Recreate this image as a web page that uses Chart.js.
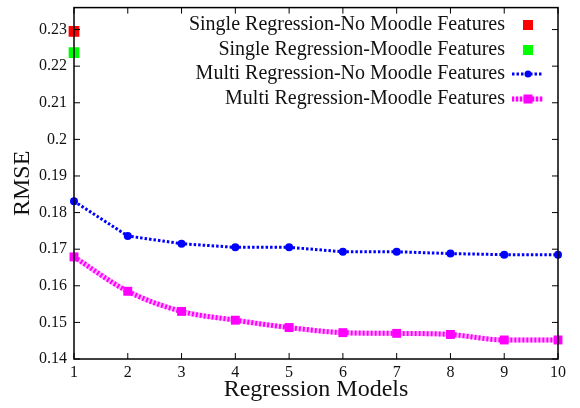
<!DOCTYPE html>
<html>
<head>
<meta charset="utf-8">
<script src="https://cdn.jsdelivr.net/npm/chart.js@4/dist/chart.umd.min.js"></script>
<style>
body { margin: 0; background: #fff; }
</style>
</head>
<body>
<canvas id="rmseChart" width="580" height="408"></canvas>
<script>
// data
var models = [1, 2, 3, 4, 5, 6, 7, 8, 9, 10];
var singleNoMoodle = [0.2295];
var singleMoodle = [0.2237];
var multiNoMoodle = [0.1831, 0.1736, 0.1715, 0.1705, 0.1705, 0.1693, 0.1693, 0.1688, 0.1685, 0.1685];
var multiMoodle = [0.1679, 0.1585, 0.1530, 0.1506, 0.1486, 0.1472, 0.1470, 0.1467, 0.1452, 0.1452];
var seriesNames = [
    'Single Regression-No Moodle Features',
    'Single Regression-Moodle Features',
    'Multi Regression-No Moodle Features',
    'Multi Regression-Moodle Features'
];

var serif = "'Liberation Serif', 'DejaVu Serif', serif";

function pts(values) {
    return values.map(function (v, i) { return { x: models[i], y: v }; });
}

// gnuplot style frame, inward ticks and key
var framePlugin = {
    id: 'frame',
    afterDraw: function (chart) {
        var c = chart.ctx, a = chart.chartArea;
        var xs = chart.scales.x, ys = chart.scales.y;
        c.save();
        c.strokeStyle = '#000';
        c.lineWidth = 1.5;
        c.strokeRect(a.left, a.top, a.right - a.left, a.bottom - a.top);
        c.lineWidth = 1;
        c.beginPath();
        xs.ticks.forEach(function (t) {
            var px = xs.getPixelForValue(t.value);
            c.moveTo(px, a.bottom); c.lineTo(px, a.bottom - 6);
            c.moveTo(px, a.top); c.lineTo(px, a.top + 6);
        });
        ys.ticks.forEach(function (t) {
            var py = ys.getPixelForValue(t.value);
            c.moveTo(a.left, py); c.lineTo(a.left + 6, py);
            c.moveTo(a.right, py); c.lineTo(a.right - 6, py);
        });
        c.stroke();

        // key
        c.font = '20px ' + serif;
        c.fillStyle = '#111';
        c.textAlign = 'right';
        c.textBaseline = 'middle';
        var textRight = 505, sx0 = 512, sx1 = 543, smid = 528;
        var rowY = [25, 50, 74, 99];
        seriesNames.forEach(function (name, i) {
            var y = rowY[i];
            c.fillText(name, textRight, y);
            if (i === 0 || i === 1) {
                c.fillStyle = i === 0 ? '#ff0000' : '#00ff00';
                c.fillRect(smid - 5, y - 5, 10, 10);
                c.fillStyle = '#111';
            } else if (i === 2) {
                c.strokeStyle = '#0000ff';
                c.lineWidth = 3;
                c.setLineDash([2.5, 2]);
                c.beginPath(); c.moveTo(sx0, y); c.lineTo(sx1, y); c.stroke();
                c.setLineDash([]);
                c.fillStyle = '#0000ff';
                c.beginPath(); c.arc(smid, y, 3.5, 0, Math.PI * 2); c.fill();
                c.fillStyle = '#111';
            } else {
                c.strokeStyle = '#ffb0ff';
                c.lineWidth = 5;
                c.beginPath(); c.moveTo(sx0, y); c.lineTo(sx1, y); c.stroke();
                c.strokeStyle = '#ff00ff';
                c.setLineDash([2, 2]);
                c.beginPath(); c.moveTo(sx0, y); c.lineTo(sx1, y); c.stroke();
                c.setLineDash([]);
                c.fillStyle = '#ff00ff';
                c.fillRect(smid - 4.5, y - 4.5, 9, 9);
                c.fillStyle = '#111';
            }
        });
        c.restore();
    }
};

// Chart.js paints the first dataset on top, so the list runs top to bottom
var ctx = document.getElementById('rmseChart').getContext('2d');
var rmseChart = new Chart(ctx, {
    type: 'line',
    data: {
        datasets: [
            {
                label: seriesNames[0],
                data: pts(singleNoMoodle),
                showLine: false,
                pointStyle: 'rect',
                pointRadius: 7.6,
                pointBorderWidth: 0,
                pointBackgroundColor: '#ff0000',
                clip: false
            },
            {
                label: seriesNames[1],
                data: pts(singleMoodle),
                showLine: false,
                pointStyle: 'rect',
                pointRadius: 7.6,
                pointBorderWidth: 0,
                pointBackgroundColor: '#00ff00',
                clip: false
            },
            {
                label: seriesNames[2],
                data: pts(multiNoMoodle),
                borderColor: '#0000ff',
                borderWidth: 3,
                borderDash: [2.5, 2],
                pointStyle: 'circle',
                pointRadius: 4,
                pointBorderWidth: 0,
                pointBackgroundColor: '#0000ff',
                tension: 0,
                clip: false
            },
            {
                label: seriesNames[3],
                data: pts(multiMoodle),
                borderColor: '#ff00ff',
                borderWidth: 5,
                borderDash: [2, 2],
                pointStyle: 'rect',
                pointRadius: 6.3,
                pointBorderWidth: 0,
                pointBackgroundColor: '#ff00ff',
                cubicInterpolationMode: 'monotone',
                clip: false
            },
            {
                label: seriesNames[3] + ' (under)',
                data: pts(multiMoodle),
                borderColor: '#ffb0ff',
                borderWidth: 5,
                pointRadius: 0,
                cubicInterpolationMode: 'monotone',
                clip: false
            }
        ]
    },
    options: {
        responsive: false,
        animation: false,
        layout: { padding: { top: 6, right: 22, left: 0, bottom: 0 } },
        plugins: {
            legend: { display: false },
            tooltip: { enabled: false }
        },
        scales: {
            x: {
                type: 'linear',
                min: 1,
                max: 10,
                grid: { display: false, drawTicks: false },
                border: { display: false },
                ticks: {
                    stepSize: 1,
                    padding: 4,
                    color: '#111',
                    font: { family: serif, size: 16 }
                },
                title: {
                    display: true,
                    text: 'Regression Models',
                    color: '#111',
                    padding: { top: 0, bottom: 4 },
                    font: { family: serif, size: 24 }
                },
                afterFit: function (s) {
                    s.height = 49;
                    s.paddingLeft = 0; s.paddingRight = 0;
                }
            },
            y: {
                min: 0.14,
                max: 0.236,
                grid: { display: false, drawTicks: false },
                border: { display: false },
                ticks: {
                    stepSize: 0.01,
                    includeBounds: false,
                    padding: 7,
                    color: '#111',
                    font: { family: serif, size: 16 },
                    callback: function (v) { return String(Number(v.toFixed(2))); }
                },
                title: {
                    display: true,
                    text: 'RMSE',
                    color: '#111',
                    padding: { top: 8, bottom: 0 },
                    font: { family: serif, size: 24 }
                },
                afterFit: function (s) {
                    s.width = 74;
                    s.paddingTop = 0; s.paddingBottom = 0;
                }
            }
        }
    },
    plugins: [framePlugin]
});
</script>
</body>
</html>
